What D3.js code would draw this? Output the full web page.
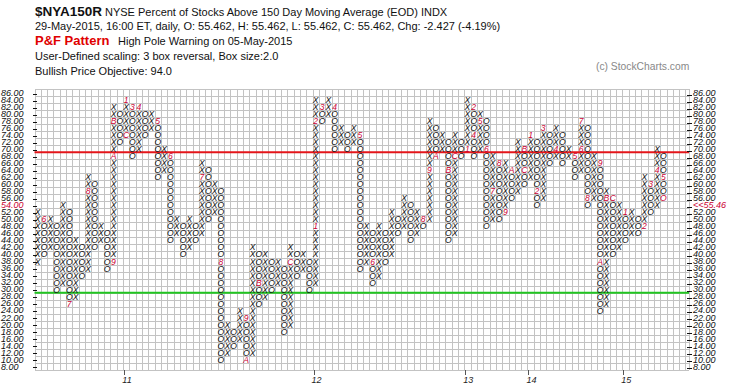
<!DOCTYPE html>
<html><head><meta charset="utf-8">
<script src="https://cdn.jsdelivr.net/npm/d3@7"></script>
<style>body{margin:0;background:#fff}svg{display:block}</style>
</head><body>
<svg id="chart" width="745" height="391"></svg>
<script>
// ---------- DATA ----------
const firstColumnType = "X";
const colLow  = [38,40,42,30,32,26,28,34,36,42,44,36,38,72,74,68,70,74,76,62,64,44,46,40,42,44,46,50,52,10,
                 12,14,16,10,12,26,28,30,32,18,20,34,36,30,32,78,80,70,72,70,72,36,38,32,34,38,40,46,48,44,
                 46,48,50,68,70,44,46,68,70,68,70,48,50,50,52,56,58,60,62,54,56,66,68,66,68,62,64,54,56,24,
                 26,40,42,44,46,46,48,52,54,56];
const colHigh = [52,50,50,48,54,52,44,42,62,60,48,46,82,80,84,82,82,80,80,78,70,68,50,48,50,48,66,64,60,58,
                 20,18,24,22,42,40,40,38,38,36,42,40,40,38,84,82,84,82,76,74,76,74,48,46,48,46,52,50,56,54,
                 52,50,78,76,74,72,74,72,84,82,80,78,68,66,66,64,72,70,74,72,76,74,76,74,70,68,78,76,68,66,
                 58,56,54,52,52,50,62,60,70,68];
// month markers: [column, box value, label]
const monthMarks = [
  [1,50,"6"],[5,26,"7"],[8,58,"8"],[12,38,"9"],[12,68,"A"],[12,78,"B"],[14,74,"C"],[14,84,"1"],
  [15,82,"3"],[16,82,"4"],[19,78,"5"],[21,68,"6"],[26,62,"7"],[29,38,"8"],[33,22,"9"],[33,10,"A"],
  [35,32,"B"],[40,38,"C"],[44,48,"1"],[44,78,"2"],[45,82,"3"],[47,82,"4"],[51,74,"5"],[53,38,"6"],
  [61,50,"8"],[62,64,"9"],[63,68,"A"],[65,64,"B"],[66,68,"C"],[68,70,"1"],[69,82,"2"],[69,74,"4"],
  [70,78,"5"],[71,70,"6"],[72,58,"7"],[73,66,"8"],[74,52,"9"],[75,64,"A"],[77,70,"B"],[77,64,"C"],
  [78,74,"1"],[79,58,"2"],[80,76,"3"],[82,70,"4"],[85,68,"5"],[86,70,"6"],[86,78,"7"],[87,56,"8"],
  [89,66,"9"],[89,38,"A"],[90,56,"B"],[91,56,"C"],[93,52,"1"],[96,48,"2"],[97,60,"3"],[98,64,"4"],[99,62,"5"]
];
const lastBox = [99, 56];
const priceLevels = [86,84,82,80,78,76,74,72,70,68,66,64,62,60,58,56,54,52,50,48,46,44,42,40,38,36,34,32,30,28,26,24,22,20,18,16,14,12,10,8];
const currentLevel = 54, currentLabel = "<<55.46";
const yearTicks = [["11",14],["12",44],["13",68],["14",78],["15",93]];
const refLines = [[70,"#e4161b"],[30,"#21c521"]];
const gridColumns = 103.56;

const titleSym = "$NYA150R";
const titleDesc = "NYSE Percent of Stocks Above 150 Day Moving Average (EOD)  INDX";
const quoteLine = "29-May-2015, 16:00 ET, daily, O: 55.462, H: 55.462, L: 55.462, C: 55.462, Chg: -2.427 (-4.19%)";
const patternLabel = "P&F Pattern", patternText = "High Pole Warning on 05-May-2015";
const scalingLine = "User-Defined scaling: 3 box reversal, Box size:2.0";
const objectiveLine = "Bullish Price Objective: 94.0";
const copyright = "(c) StockCharts.com";

// ---------- DRAW ----------
const svg = d3.select("#chart");
const FONT = "'Liberation Sans', Arial, sans-serif";
const x = d3.scaleLinear().domain([0, gridColumns]).range([34.5, 689]);
const y = d3.scaleLinear().domain([8, 88]).range([370, 89]);
const red = "#cc0033";

// header
const hdr = svg.append("g").attr("font-family", FONT).attr("fill", "#111");
hdr.append("text").attr("x", 35).attr("y", 16).attr("font-size", 13.5).attr("font-weight", "bold").text(titleSym);
hdr.append("text").attr("x", 105).attr("y", 16).attr("font-size", 11).text(titleDesc);
hdr.append("text").attr("x", 35).attr("y", 29.5).attr("font-size", 11).text(quoteLine);
hdr.append("text").attr("x", 35).attr("y", 45).attr("font-size", 13).attr("font-weight", "bold").attr("fill", "#e00000").text(patternLabel);
hdr.append("text").attr("x", 118).attr("y", 45).attr("font-size", 11).text(patternText);
hdr.append("text").attr("x", 35).attr("y", 60).attr("font-size", 11).text(scalingLine);
hdr.append("text").attr("x", 35).attr("y", 75).attr("font-size", 11).text(objectiveLine);
svg.append("text").attr("x", 596).attr("y", 69.5).attr("font-family", FONT).attr("font-size", 10.3).attr("fill", "#888").text(copyright);

// grid
const vCols = d3.range(0, Math.floor(gridColumns) + 1).concat([gridColumns]);
const grid = svg.append("g").attr("stroke", "#c3c3c3").attr("stroke-width", 1).attr("shape-rendering", "crispEdges");
grid.selectAll("line.v").data(vCols).join("line").attr("class","v")
  .attr("x1", d => Math.round(x(d)) + 0.5).attr("x2", d => Math.round(x(d)) + 0.5)
  .attr("y1", y(88)).attr("y2", y(8));
grid.selectAll("line.h").data(d3.range(8, 90, 2)).join("line").attr("class","h")
  .attr("x1", x(0)).attr("x2", x(gridColumns))
  .attr("y1", d => Math.round(y(d)) + 0.5).attr("y2", d => Math.round(y(d)) + 0.5);

// reference lines
svg.selectAll("line.ref").data(refLines).join("line").attr("class", "ref")
  .attr("x1", x(0)).attr("x2", x(gridColumns))
  .attr("y1", d => y(d[0])).attr("y2", d => y(d[0]))
  .attr("stroke", d => d[1]).attr("stroke-width", 2.2);

// axes labels
const ax = svg.append("g").attr("font-family", FONT).attr("font-size", 9).attr("font-style", "italic");
ax.selectAll("text.l").data(priceLevels).join("text").attr("class", "l")
  .attr("x", 1).attr("y", d => y(d + 1) + 3.2)
  .attr("fill", d => d === currentLevel ? red : "#111")
  .text(d => d.toFixed(2));
ax.selectAll("text.r").data(priceLevels).join("text").attr("class", "r")
  .attr("x", 693).attr("y", d => y(d + 1) + 3.2)
  .attr("fill", d => d === currentLevel ? red : "#111")
  .text(d => d === currentLevel ? currentLabel : d.toFixed(2));
const tk = svg.append("g").attr("stroke", "#111").attr("shape-rendering", "crispEdges");
tk.selectAll("line.tl").data(priceLevels).join("line").attr("class","tl")
  .attr("x1", 33).attr("x2", 37).attr("y1", d => Math.round(y(d + 1)) + 1.5).attr("y2", d => Math.round(y(d + 1)) + 1.5);
tk.selectAll("line.tr").data(priceLevels).join("line").attr("class","tr")
  .attr("x1", 687).attr("x2", 692).attr("y1", d => Math.round(y(d + 1)) + 2.5).attr("y2", d => Math.round(y(d + 1)) + 2.5);

// year ticks
const yt = svg.append("g").attr("font-family", FONT).attr("font-size", 9).attr("font-style", "italic");
yt.selectAll("line").data(yearTicks).join("line")
  .attr("x1", d => Math.round(x(d[1])) + 1.5).attr("x2", d => Math.round(x(d[1])) + 1.5)
  .attr("y1", y(8)).attr("y2", y(8) + 5).attr("stroke", "#555");
yt.selectAll("text").data(yearTicks).join("text")
  .attr("x", d => x(d[1]) + 4).attr("y", y(8) + 13).attr("text-anchor", "middle").attr("fill", "#222")
  .text(d => d[0]);

// boxes
const markMap = new Map(monthMarks.map(m => [m[0] + ":" + m[1], m[2]]));
const boxes = [];
colLow.forEach((lo, c) => {
  const type = (c % 2 === 0) === (firstColumnType === "X") ? "X" : "O";
  for (let v = lo; v <= colHigh[c]; v += 2) {
    const key = c + ":" + v;
    const isLast = c === lastBox[0] && v === lastBox[1];
    boxes.push({c, v, t: markMap.has(key) ? markMap.get(key) : type, red: markMap.has(key) || isLast});
  }
});
svg.append("g").attr("font-family", FONT).attr("font-size", 8.6).attr("font-style", "italic")
  .selectAll("text").data(boxes).join("text")
  .attr("x", d => x(d.c + 0.5)).attr("y", d => y(d.v + 1) + 3.4)
  .attr("text-anchor", "middle")
  .attr("fill", d => d.red ? red : "#111")
  .text(d => d.t);
</script>
</body></html>
